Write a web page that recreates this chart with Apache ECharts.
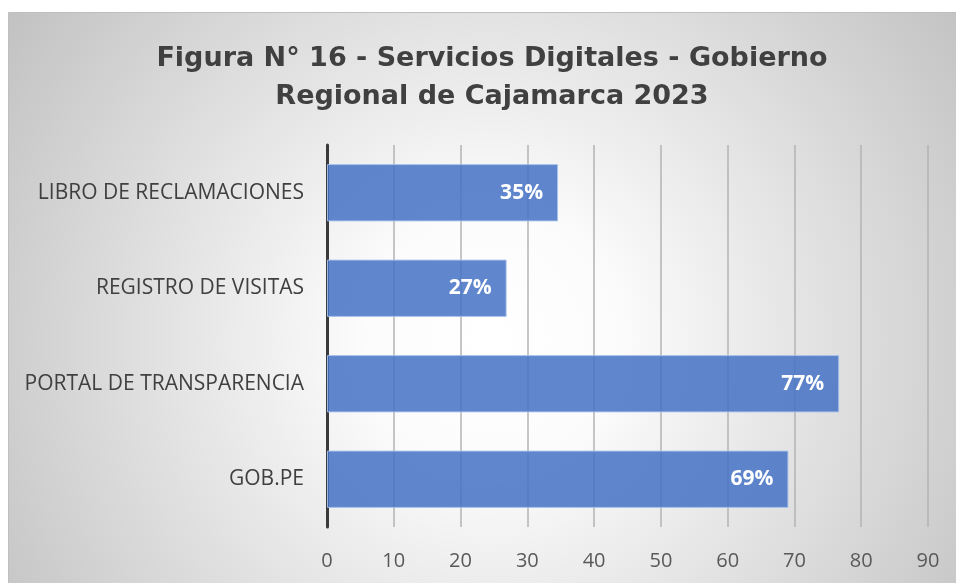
<!DOCTYPE html>
<html>
<head>
<meta charset="utf-8">
<script src="https://cdn.jsdelivr.net/npm/echarts@6/dist/echarts.min.js"></script>
<style>
html,body{margin:0;padding:0;background:#ffffff;}
#chart{width:956px;height:583px;}
</style>
</head>
<body>
<div id="chart"></div>
<script>
const titleText = 'Figura N° 16 - Servicios Digitales - Gobierno\nRegional de Cajamarca 2023';
const categories = ['LIBRO DE RECLAMACIONES', 'REGISTRO DE VISITAS', 'PORTAL DE TRANSPARENCIA', 'GOB.PE'];
const values = [34.6, 26.9, 76.7, 69.1];
const axisMin = 0;
const axisMax = 90;
const axisStep = 10;

const chart = echarts.init(document.getElementById('chart'), null, {renderer: 'canvas'});
chart.setOption({
  animation: false,
  backgroundColor: 'transparent',
  graphic: [{
    type: 'rect',
    z: -100,
    silent: true,
    shape: {x: 8.5, y: 12.5, width: 980, height: 600},
    style: {
      fill: {
        type: 'radial', x: 490, y: 340, r: 620, global: true,
        colorStops: [
          {offset: 0, color: '#ffffff'},
          {offset: 0.2, color: '#fcfcfc'},
          {offset: 1, color: '#bdbdbd'}
        ]
      },
      stroke: '#bfbfbf',
      lineWidth: 1
    }
  }],
  title: {
    text: titleText,
    left: 487,
    textAlign: 'center',
    top: 35,
    textStyle: {
      fontFamily: 'DejaVu Sans',
      fontWeight: 'bold',
      fontSize: 27,
      lineHeight: 38,
      color: '#404040'
    }
  },
  grid: {left: 327, right: 28, top: 145, bottom: 56, containLabel: false},
  xAxis: {
    type: 'value',
    min: axisMin,
    max: axisMax,
    interval: axisStep,
    axisLine: {show: false},
    axisTick: {show: false},
    axisLabel: {
      margin: 24,
      fontFamily: 'Open Sans',
      fontSize: 20,
      color: '#595959'
    },
    splitLine: {show: true, lineStyle: {color: '#b3b3b3', width: 1.5}}
  },
  yAxis: {
    type: 'category',
    data: categories,
    inverse: true,
    axisLine: {show: true, lineStyle: {color: '#3a3a3a', width: 3}},
    axisTick: {show: false},
    axisLabel: {
      margin: 23,
      fontFamily: 'Open Sans',
      fontSize: 21,
      color: '#404040'
    }
  },
  series: [{
    type: 'bar',
    data: values,
    barCategoryGap: '40%',
    z: 1,
    itemStyle: {
      color: 'rgba(68,114,196,0.85)',
      borderColor: 'rgba(170,195,235,0.9)',
      borderWidth: 1
    },
    label: {
      show: true,
      position: 'insideRight',
      distance: 15,
      formatter: p => Math.round(p.value) + '%',
      fontFamily: 'Open Sans',
      fontWeight: 'bold',
      fontSize: 21,
      color: '#ffffff'
    }
  }]
});
</script>
</body>
</html>
